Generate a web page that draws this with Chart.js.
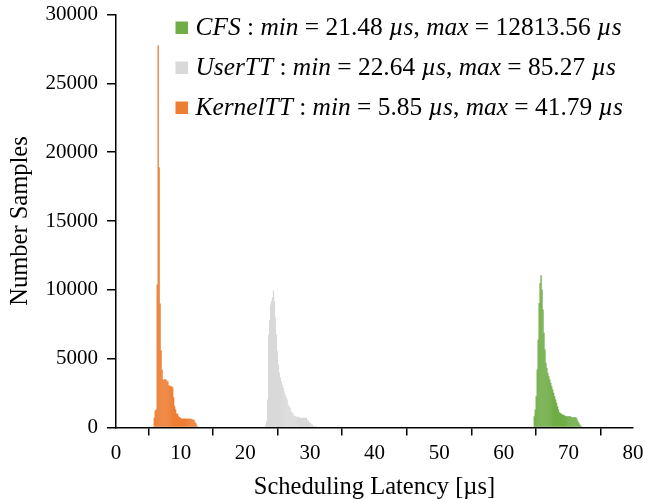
<!DOCTYPE html>
<html><head><meta charset="utf-8">
<script src="https://cdn.jsdelivr.net/npm/chart.js@4/dist/chart.umd.min.js"></script>
<style>html,body{margin:0;padding:0;background:#fff;}#wrap{width:649px;height:499px;}</style>
</head><body><div id="wrap"><canvas id="c" width="649" height="499"></canvas></div>
<script>
// ---- data ----
const binWidth = 0.15; // histogram bin width in µs
const seriesNames = ['CFS', 'UserTT', 'KernelTT'];
const minLatency = ['21.48', '22.64', '5.85'];
const maxLatency = ['12813.56', '85.27', '41.79'];
const seriesColors = ['#70AD47', '#D9D9D9', '#ED7D31'];

const cfsStart = 64.65;
const cfsCounts = [820,1300,2270,4210,6390,9050,10500,11060,10020,8570,6880,5660,4700,4330,3970,3730,3490,3250,3000,2760,2520,2270,2030,1790,1550,1310,1110,1050,990,950,920,890,850,820,820,820,820,820,780,750,750,750,750,750,630,460,340,220,130,80];

const userStart = 23.10;
const userCounts = [200,460,2030,6750,7800,8930,9200,9440,9950,9170,7990,6750,5540,4575,4000,3630,3360,3120,2900,2640,2400,2200,2030,1670,1550,1450,1180,1100,1020,870,830,780,780,780,780,700,700,700,700,700,700,700,700,510,510,340,340,220,220,100,100,100];

const kernelStart = 5.85;
const kernelCounts = [700,1230,1300,10385,27770,18900,9000,5590,4210,3500,3450,3520,3480,3400,3350,3050,3050,3000,3000,2900,2200,1550,1300,1020,1000,820,760,700,650,660,640,650,630,650,640,620,650,630,640,600,580,550,390,300,150];

const xTicks = [0, 10, 20, 30, 40, 50, 60, 70, 80];
const yTicks = [0, 5000, 10000, 15000, 20000, 25000, 30000];

// ---- build ----
function toPoints(start, counts) {
  return counts.map((c, i) => ({ x: start + binWidth * (i + 0.5), y: c }));
}
const seriesData = [toPoints(cfsStart, cfsCounts), toPoints(userStart, userCounts), toPoints(kernelStart, kernelCounts)];

const SERIF = "'Liberation Serif', 'DejaVu Serif', serif";
const FS = 21;      // tick labels
const FS_T = 24.5;  // axis titles
const FS_L = 25.4;  // legend

const legendPlugin = {
  id: 'mathLegend',
  afterDraw(chart) {
    const ctx = chart.ctx;
    const ca = chart.chartArea;
    const x0 = ca.left + 59.5;
    const y0 = ca.top + 7;
    const rowGap = 40;
    const boxSize = 12.5;
    ctx.save();
    ctx.textBaseline = 'alphabetic';
    for (let r = 0; r < seriesNames.length; r++) {
      const top = y0 + r * rowGap;
      ctx.fillStyle = seriesColors[r];
      ctx.fillRect(x0, top, boxSize, boxSize);
      const segs = [
        [seriesNames[r], true], [' : ', false], ['min', true], [' = ' + minLatency[r] + ' ', false], ['µs', true],
        [', ', false], ['max', true], [' = ' + maxLatency[r] + ' ', false], ['µs', true]
      ];
      let x = x0 + boxSize + 7.5;
      const base = top + boxSize + 0.5;
      ctx.fillStyle = '#000';
      for (const [t, it] of segs) {
        ctx.font = (it ? 'italic ' : '') + FS_L + 'px ' + SERIF;
        ctx.fillText(t, x, base);
        x += ctx.measureText(t).width;
      }
    }
    ctx.restore();
  }
};

new Chart(document.getElementById('c'), {
  type: 'bar',
  data: {
    datasets: seriesNames.map((n, i) => ({
      label: n,
      data: seriesData[i],
      backgroundColor: seriesColors[i],
      borderWidth: 0,
      grouped: false,
      barPercentage: 1.35,
      categoryPercentage: 1
    }))
  },
  options: {
    responsive: false,
    animation: false,
    layout: { padding: { left: 0, right: 16, top: 14.5, bottom: 0 } },
    plugins: { legend: { display: false }, tooltip: { enabled: false } },
    scales: {
      x: {
        type: 'linear', min: 0, max: 80, offset: false,
        afterBuildTicks: s => { s.ticks = xTicks.map(v => ({ value: v })); },
        afterFit: s => { s.height = 71.5; },
        ticks: { color: '#000', font: { family: SERIF, size: FS }, padding: 5, maxRotation: 0, autoSkip: false, callback: v => String(v) },
        grid: { display: true, drawOnChartArea: false, drawTicks: true, tickLength: 8, color: '#000', lineWidth: 1.5 },
        border: { display: true, color: '#000', width: 1.5 },
        title: { display: true, text: 'Scheduling Latency [µs]', color: '#000', font: { family: SERIF, size: FS_T, lineHeight: 0.9 }, padding: { top: 0, bottom: 0 } }
      },
      y: {
        type: 'linear', min: 0, max: 30000,
        afterBuildTicks: s => { s.ticks = yTicks.map(v => ({ value: v })); },
        afterFit: s => { s.width = 116; s.paddingTop = 0; s.paddingBottom = 0; },
        ticks: { color: '#000', font: { family: SERIF, size: FS }, padding: 9, callback: v => String(v) },
        grid: { display: true, drawOnChartArea: false, drawTicks: true, tickLength: 9, color: '#000', lineWidth: 1.5 },
        border: { display: true, color: '#000', width: 1.5 },
        title: { display: true, text: 'Number Samples', color: '#000', font: { family: SERIF, size: FS_T }, padding: { top: 6, bottom: 0 } }
      }
    }
  },
  plugins: [legendPlugin]
});
</script></body></html>
